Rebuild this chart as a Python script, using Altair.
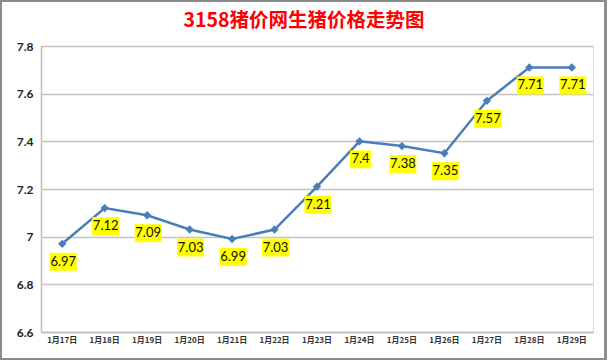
import altair as alt
import pandas as pd

dates = ["1月17日", "1月18日", "1月19日", "1月20日", "1月21日", "1月22日", "1月23日",
         "1月24日", "1月25日", "1月26日", "1月27日", "1月28日", "1月29日"]
prices = [6.97, 7.12, 7.09, 7.03, 6.99, 7.03, 7.21, 7.40, 7.38, 7.35, 7.57, 7.71, 7.71]
y_ticks = [6.6, 6.8, 7.0, 7.2, 7.4, 7.6, 7.8]
title_text = "3158猪价网生猪价格走势图"

df = pd.DataFrame({"date": dates, "price": prices})

x_enc = alt.X("date:N", sort=dates, title=None,
              scale=alt.Scale(paddingInner=0, paddingOuter=0),
              axis=alt.Axis(labelAngle=0, labelFontSize=8, labelFont="Noto Sans CJK SC",
                            labelFontWeight="bold", labelColor="#333333", labelPadding=4,
                            ticks=False, domainColor="#BDBDBD", domainWidth=1.5, grid=False))
y_enc = alt.Y("price:Q", title=None,
              scale=alt.Scale(domain=[6.6, 7.8], nice=False, zero=False),
              axis=alt.Axis(values=y_ticks, format=".1~f", labelFontSize=12, labelFont="Lato",
                            labelFontWeight="bold", labelColor="#222222", labelPadding=8,
                            ticks=False, domainColor="#BDBDBD", domainWidth=1.5,
                            gridColor="#C4C4C4", gridWidth=1.5))

base = alt.Chart(df)

line = base.mark_line(color="#4A7EBB", strokeWidth=2.5).encode(x=x_enc, y=y_enc)
pts = base.mark_point(shape="diamond", filled=True, size=70, color="#4A7EBB", opacity=1).encode(
    x="date:N", y="price:Q")

lab = base.transform_calculate(label="format(datum.price, '~g')")
box4 = lab.transform_filter("length(datum.label) >= 4").mark_rect(
    color="#FFFF00", width=27, height=18, yOffset=18, xOffset=1).encode(x="date:N", y="price:Q")
box3 = lab.transform_filter("length(datum.label) < 4").mark_rect(
    color="#FFFF00", width=21, height=18, yOffset=18, xOffset=1).encode(x="date:N", y="price:Q")
txt = lab.mark_text(font="Lato", fontSize=13, color="#111111", yOffset=18, xOffset=1,
                    baseline="middle").encode(x="date:N", y="price:Q", text="label:N")

frame = alt.Chart(df).mark_rect(fill=None, stroke="#8C8C8C", strokeWidth=1.5).encode(
    x=alt.value(-40), x2=alt.value(564.5), y=alt.value(-45), y2=alt.value(313))

chart = alt.layer(frame, line, pts, box4, box3, txt).properties(
    width=552, height=286,
    title=alt.TitleParams(title_text, color="#FF0000", fontSize=19.5, fontWeight="bold",
                          font="Noto Sans CJK SC", anchor="middle", dx=-13, offset=-31),
    autosize=alt.AutoSizeParams(type="none"),
    padding={"left": 41, "top": 46, "right": 15, "bottom": 29},
).configure_view(stroke=None).configure(background="white")

chart.save("out.html", embed_options={"renderer": "svg", "actions": False})
